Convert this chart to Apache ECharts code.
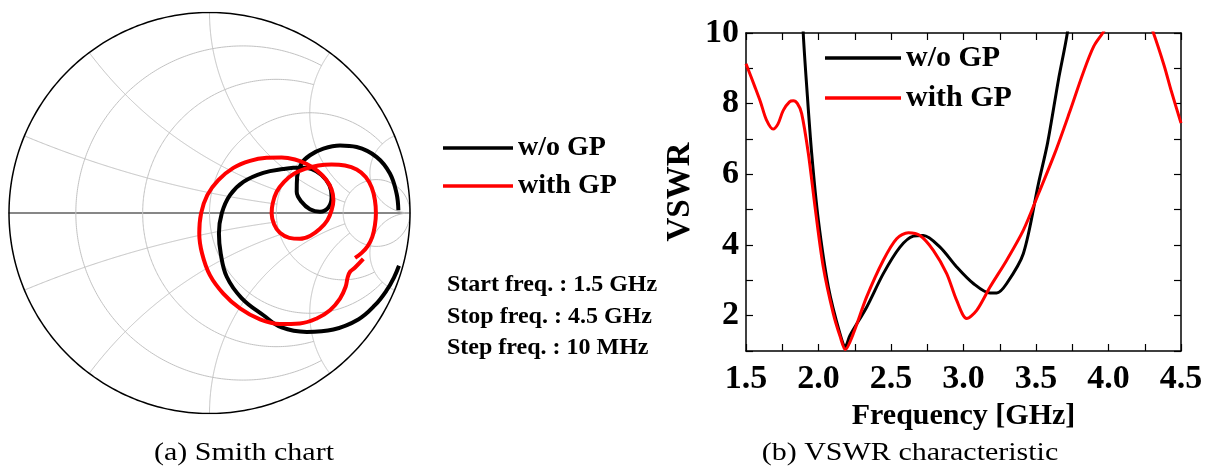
<!DOCTYPE html>
<html><head><meta charset="utf-8">
<script src="https://cdn.jsdelivr.net/npm/echarts/dist/echarts.min.js"></script>
<style>html,body{margin:0;padding:0;background:#fff}#c{width:1213px;height:468px}</style>
</head><body><div id="c"></div>
<script>
// ---------- VSWR data ----------
const freqWo   = [1.84,1.87,1.895,1.919,1.953,1.999,2.068,2.148,2.185,2.217,2.332,2.447,2.562,2.654,2.723,2.838,2.953,3.068,3.183,3.229,3.298,3.413,3.517,3.58,3.655,3.716,3.75,3.79];
const vswrWo   = [16.0,12.5,9.98,8.47,6.59,4.70,2.81,1.49,1.13,1.44,2.24,3.19,3.94,4.25,4.27,3.94,3.38,2.91,2.64,2.64,2.91,3.76,5.74,6.89,8.68,10.0,11.2,13.0];
const freqWith = [1.5,1.56,1.60,1.64,1.687,1.72,1.757,1.80,1.826,1.855,1.884,1.93,1.976,2.033,2.102,2.15,2.185,2.24,2.332,2.447,2.539,2.62,2.70,2.792,2.884,2.953,3.022,3.091,3.183,3.298,3.413,3.517,3.63,3.73,3.825,3.898,3.96,4.05,4.15,4.25,4.31,4.385,4.43,4.5];
const vswrWith = [9.13,8.49,8.05,7.55,7.28,7.42,7.81,8.05,8.08,8.0,7.72,6.59,5.08,3.38,2.06,1.4,1.04,1.49,2.53,3.57,4.18,4.35,4.27,3.85,3.19,2.43,1.92,2.15,2.81,3.57,4.42,5.45,6.60,7.74,8.87,9.62,10.0,10.6,10.9,10.6,10.0,9.06,8.4,7.45];

// ---------- Smith chart data (reflection coefficient) ----------
const gReWo = [0.942,0.933,0.900,0.834,0.734,0.651,0.568,0.501,0.459,0.437,0.435,0.459,0.501,0.551,0.593,0.609,0.598,0.559,0.510,0.451,0.368,0.268,0.169,0.102,0.061,0.047,0.056,0.086,0.160,0.269,0.360,0.485,0.618,0.742,0.825,0.884,0.920,0.945];
const gImWo = [0.014,0.097,0.197,0.279,0.329,0.337,0.321,0.288,0.247,0.180,0.106,0.056,0.019,0.006,0.027,0.081,0.139,0.189,0.219,0.227,0.219,0.200,0.155,0.089,-0.002,-0.102,-0.202,-0.318,-0.424,-0.510,-0.571,-0.593,-0.581,-0.531,-0.460,-0.385,-0.322,-0.263];
const gReWith = [0.726,0.759,0.789,0.812,0.825,0.830,0.825,0.809,0.779,0.734,0.676,0.609,0.543,0.476,0.418,0.372,0.335,0.315,0.310,0.322,0.351,0.398,0.451,0.505,0.551,0.588,0.609,0.618,0.609,0.581,0.538,0.485,0.426,0.360,0.285,0.202,0.119,0.044,-0.011,-0.042,-0.051,-0.037,0.002,0.069,0.152,0.252,0.351,0.451,0.535,0.601,0.651,0.679,0.689,0.701,0.726,0.767];
const gImWith = [-0.224,-0.199,-0.165,-0.119,-0.061,-0.002,0.064,0.127,0.180,0.217,0.237,0.242,0.237,0.220,0.194,0.155,0.106,0.047,-0.002,-0.056,-0.099,-0.124,-0.129,-0.112,-0.079,-0.036,0.014,0.064,0.117,0.167,0.210,0.244,0.267,0.277,0.275,0.260,0.225,0.164,0.089,-0.002,-0.102,-0.202,-0.310,-0.402,-0.476,-0.531,-0.554,-0.551,-0.526,-0.485,-0.427,-0.368,-0.322,-0.293,-0.272,-0.229];

// Smith grid: resistance circles / reactance arcs and where each is cut off
const smithR = [0.2, 0.5, 1, 2, 5];
const smithRLimit = [2, 2, 5, 5, Infinity];   // |x| range drawn
const smithX = [0.2, 0.5, 1, 2, 5];
const smithXLimit = [2, 2, 5, 5, Infinity];   // r range drawn

const seriesNames = ['w/o GP', 'with GP'];
const infoLines = ['Start freq. : 1.5 GHz', 'Stop freq. : 4.5 GHz', 'Step freq. : 10 MHz'];
const captions = ['(a) Smith chart', '(b) VSWR characteristic'];

// ---------- helpers ----------
const FONT = '"Liberation Serif","Times New Roman",serif';
function gam(r, x) { const d = (r + 1) * (r + 1) + x * x; return [(r * r + x * x - 1) / d, 2 * x / d]; }
const EPS = 1e-6;
const gridArcs = [];
smithR.forEach((r, i) => {
  const L = smithRLimit[i], T = isFinite(L) ? Math.atan(L) : Math.PI / 2 - EPS, N = 300, pts = [];
  for (let k = 0; k <= N; k++) { const t = -T + 2 * T * k / N; pts.push(gam(r, Math.tan(t))); }
  gridArcs.push({ coords: pts });
});
smithX.forEach((x, i) => {
  const L = smithXLimit[i], S = isFinite(L) ? Math.atan(L) : Math.PI / 2 - EPS, N = 300;
  [1, -1].forEach(sg => {
    const pts = [];
    for (let k = 0; k <= N; k++) { const s = S * k / N; pts.push(gam(Math.tan(s), sg * x)); }
    gridArcs.push({ coords: pts });
  });
});
const outer = [];
for (let k = 0; k <= 360; k++) { const a = k * Math.PI / 180; outer.push([Math.cos(a), Math.sin(a)]); }
const zip = (a, b) => a.map((v, i) => [v, b[i]]);

const chart = echarts.init(document.getElementById('c'), null, { renderer: 'canvas' });
const tickStyle = { color: '#000', width: 1.2 };
chart.setOption({
  animation: false,
  backgroundColor: '#fff',
  grid: [
    { left: 9, top: 12.5, width: 401, height: 401 },
    { left: 746, top: 33, width: 435, height: 318 }
  ],
  xAxis: [
    { gridIndex: 0, type: 'value', min: -1, max: 1, axisLine: { show: true, onZero: true, lineStyle: { color: '#606060', width: 1.5 } },
      axisTick: { show: false }, axisLabel: { show: false }, splitLine: { show: false } },
    { gridIndex: 1, type: 'value', min: 1.5, max: 4.5, interval: 0.5, position: 'bottom',
      axisLine: { show: true, onZero: false, lineStyle: { color: '#000', width: 1.5 } },
      axisTick: { show: true, inside: true, length: 7, lineStyle: tickStyle },
      minorTick: { show: true, splitNumber: 2, length: 7, lineStyle: tickStyle },
      splitLine: { show: false }, minorSplitLine: { show: false },
      axisLabel: { show: true, margin: 11, color: '#000', fontFamily: FONT, fontWeight: 'bold', fontSize: 34,
        showMinLabel: true, showMaxLabel: true, formatter: v => v.toFixed(1) },
      name: 'Frequency [GHz]', nameLocation: 'middle', nameGap: 40,
      nameTextStyle: { color: '#000', fontFamily: FONT, fontWeight: 'bold', fontSize: 30 } },
    { gridIndex: 1, type: 'value', min: 1.5, max: 4.5, interval: 0.25, position: 'top',
      axisLine: { show: true, onZero: false, lineStyle: { color: '#000', width: 1.5 } },
      axisTick: { show: true, inside: true, length: 7, lineStyle: tickStyle },
      axisLabel: { show: false }, splitLine: { show: false } }
  ],
  yAxis: [
    { gridIndex: 0, type: 'value', min: -1, max: 1, show: false },
    { gridIndex: 1, type: 'value', min: 1, max: 10, interval: 1, position: 'left',
      axisLine: { show: true, onZero: false, lineStyle: { color: '#000', width: 1.5 } },
      axisTick: { show: true, inside: true, length: 7, lineStyle: tickStyle },
      splitLine: { show: false },
      axisLabel: { show: true, margin: 7, color: '#000', fontFamily: FONT, fontWeight: 'bold', fontSize: 34,
        showMinLabel: true, showMaxLabel: true, formatter: v => (v % 2 === 0 ? String(v) : '') },
      name: 'VSWR', nameLocation: 'middle', nameGap: 49,
      nameTextStyle: { color: '#000', fontFamily: FONT, fontWeight: 'bold', fontSize: 33 } },
    { gridIndex: 1, type: 'value', min: 1, max: 10, interval: 1, position: 'right',
      axisLine: { show: true, onZero: false, lineStyle: { color: '#000', width: 1.5 } },
      axisTick: { show: true, inside: true, length: 7, lineStyle: tickStyle },
      axisLabel: { show: false }, splitLine: { show: false } }
  ],
  legend: [
    { data: seriesNames, left: 443, top: 134, orient: 'vertical', icon: 'rect', itemWidth: 70, itemHeight: 3.5,
      itemGap: 10, selectedMode: false, padding: 0,
      textStyle: { color: '#000', fontFamily: FONT, fontWeight: 'bold', fontSize: 28, lineHeight: 28 } },
    { data: seriesNames, left: 825, top: 43, orient: 'vertical', icon: 'rect', itemWidth: 76, itemHeight: 3.5,
      itemGap: 10, selectedMode: false, padding: 0,
      textStyle: { color: '#000', fontFamily: FONT, fontWeight: 'bold', fontSize: 30, lineHeight: 30 } }
  ],
  graphic: [
    ...infoLines.map((t, i) => ({ type: 'text', x: 447, y: 285 + i * 31.5, silent: true,
      style: { text: t, fill: '#000', font: 'bold 24px ' + FONT, align: 'left', verticalAlign: 'middle', textAlign: 'left', textVerticalAlign: 'middle' } })),
    ...captions.map((t, i) => ({ type: 'text', x: i === 0 ? 244 : 910, y: 453, scaleX: 1.2, silent: true,
      style: { text: t, fill: '#000', font: '25px ' + FONT, align: 'center', verticalAlign: 'middle', textAlign: 'center', textVerticalAlign: 'middle' } }))
  ],
  series: [
    { type: 'lines', coordinateSystem: 'cartesian2d', xAxisIndex: 0, yAxisIndex: 0, polyline: true, silent: true, z: 1,
      lineStyle: { color: '#c2c2c2', width: 1, opacity: 1 }, data: gridArcs },
    { type: 'lines', coordinateSystem: 'cartesian2d', xAxisIndex: 0, yAxisIndex: 0, polyline: true, silent: true, z: 3,
      lineStyle: { color: '#000', width: 1.5, opacity: 1 }, data: [{ coords: outer }] },
    { name: seriesNames[0], type: 'line', xAxisIndex: 0, yAxisIndex: 0, data: zip(gReWo, gImWo), smooth: 0.4,
      symbol: 'none', clip: false, z: 4, color: '#000', lineStyle: { color: '#000', width: 4 } },
    { name: seriesNames[1], type: 'line', xAxisIndex: 0, yAxisIndex: 0, data: zip(gReWith, gImWith), smooth: 0.4,
      symbol: 'none', clip: false, z: 5, color: '#ff0000', lineStyle: { color: '#ff0000', width: 4 } },
    { name: seriesNames[0], type: 'line', xAxisIndex: 1, yAxisIndex: 1, data: zip(freqWo, vswrWo), smooth: 0.3,
      symbol: 'none', clip: true, z: 4, color: '#000', lineStyle: { color: '#000', width: 3 } },
    { name: seriesNames[1], type: 'line', xAxisIndex: 1, yAxisIndex: 1, data: zip(freqWith, vswrWith), smooth: 0.3,
      symbol: 'none', clip: true, z: 5, color: '#ff0000', lineStyle: { color: '#ff0000', width: 3 } }
  ]
});
</script></body></html>
